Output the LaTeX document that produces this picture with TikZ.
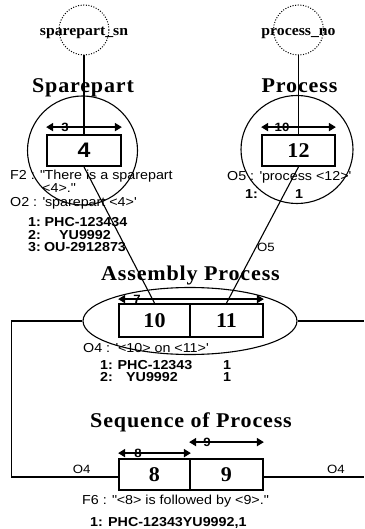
\documentclass[tikz,border=0pt]{standalone}
\usepackage{fontspec}
\setmainfont{Liberation Sans}[FakeStretch=1.1]
\newfontfamily\titlefont{Liberation Serif}[FakeStretch=1.05,LetterSpace=4]
\newfontfamily\numfont{Liberation Serif}[FakeStretch=1.05]
\newfontfamily\circfont{Liberation Serif}[FakeStretch=1.05]
\usetikzlibrary{arrows.meta,shapes.geometric}
\newcommand\sq{\textquotesingle}
\newcommand\dq{\textquotedbl}
\tikzset{
  bx/.style={draw, line width=1.8pt, inner sep=0pt, font=\numfont\bfseries\fontsize{21}{21}\selectfont},
  dimarrow/.style={line width=1.8pt, {Triangle[length=7pt,width=8pt]}-{Triangle[length=7pt,width=8pt]}},
  dimlbl/.style={font=\bfseries\fontsize{12}{12}\selectfont, inner sep=0pt, anchor=base},
  txt/.style={font=\fontsize{13}{13}\selectfont, inner sep=0pt, anchor=base west},
  btxt/.style={font=\bfseries\fontsize{13}{13}\selectfont, inner sep=0pt, anchor=base west},
  bval/.style={font=\bfseries\fontsize{13}{13}\selectfont, inner sep=0pt, anchor=base},
  title/.style={font=\titlefont\bfseries\fontsize{21}{21}\selectfont, inner sep=0pt, anchor=base},
  dotc/.style={draw, circle, minimum size=50pt, inner sep=0pt, line width=1pt, dash pattern=on 1pt off 1.6pt},
  clbl/.style={font=\circfont\bfseries\fontsize{15}{15}\selectfont, inner sep=0pt, anchor=base},
  bigc/.style={draw, ellipse, line width=1.1pt, inner sep=0pt},
  conn/.style={line width=1.1pt},
  olbl/.style={font=\fontsize{12}{12}\selectfont, inner sep=0pt},
}
\begin{document}
\begin{tikzpicture}[x=1pt,y=-1pt]
\useasboundingbox (0,0) rectangle (364,529);

% key circles
\node[dotc] (sn) at (84,30) {};
\node[clbl] (snl) at (84,36) {sparepart\_sn};
\node[dotc] (pn) at (298.5,30) {};
\node[clbl] (pnl) at (298.5,36) {process\_no};

% titles
\node[title] (tsp) at (83,93) {Sparepart};
\node[title] (tpr) at (299.5,93) {Process};
\node[title] (tas) at (190.5,280) {Assembly Process};
\node[title] (tsq) at (191,427) {Sequence of Process};

% big circles and ellipse
\node[bigc, minimum width=110pt, minimum height=109pt] (csp) at (82.5,150.5) {};
\node[bigc, minimum width=112pt, minimum height=108pt] (cpr) at (297,149.5) {};
\node[bigc, minimum width=214pt, minimum height=67pt] (asm) at (190,321) {};

% boxes
\node[bx, minimum width=74pt, minimum height=31pt, font=\bfseries\fontsize{21}{21}\selectfont] (b4) at (84,150.5) {4};
\node[bx, minimum width=73pt, minimum height=31pt] (b12) at (298.5,150.5) {12};
\node[bx, minimum width=71pt, minimum height=33pt] (b10) at (154.5,320.5) {10};
\node[bx, minimum width=73pt, minimum height=33pt] (b11) at (226.5,320.5) {11};
\node[bx, minimum width=71pt, minimum height=31pt] (b8) at (154.5,474.5) {8};
\node[bx, minimum width=73pt, minimum height=31pt] (b9) at (226.5,474.5) {9};

% dimension arrows
\draw[dimarrow] ([yshift=7pt]b4.north west) -- ([yshift=7pt]b4.north east);
\node[dimlbl] (l3) at (65,132) {3};
\draw[dimarrow] ([yshift=7pt]b12.north west) -- ([yshift=7pt]b12.north east);
\node[dimlbl] (l10) at (282,132) {10};
\draw[dimarrow] ([yshift=4pt]b10.north west) -- ([yshift=4pt]b11.north east);
\node[dimlbl] (l7) at (137,303) {7};
\draw[dimarrow] ([yshift=5pt]b8.north west) -- ([yshift=5pt]b8.north east);
\node[dimlbl] (l8) at (138,457) {8};
\draw[dimarrow] ([yshift=16pt]b9.north west) -- ([yshift=16pt]b9.north east);
\node[dimlbl] (l9) at (207,446) {9};

% connectors
\draw[conn] (sn.south) -- (b4.north);
\draw[conn] (pn.south) -- (b12.north);
\draw[conn] (b4.south) -- (b10.north);
\draw[conn] (b12.south) -- node[olbl, pos=0.59, anchor=west, inner sep=0.5pt] {O5} (b11.north);
\draw[conn] (asm.west) -| ([xshift=-107pt,yshift=-2.5pt]b8.west) -- node[olbl, pos=0.66, anchor=south, inner sep=2.5pt] {O4} ([yshift=-2.5pt]b8.west);
\coordinate (re1) at (364,321);
\coordinate (re2) at (364,477);
\draw[conn] (asm.east) -- (re1);
\draw[conn] ([yshift=-2.5pt]b9.east) -- node[olbl, pos=0.72, anchor=south, inner sep=2.5pt] {O4} (re2);

% Sparepart texts
\node[txt] (f2a) at (10,180) {F2 : \dq There is a sparepart};
\node[txt] (f2b) at (42,193) {<4>.\dq};
\node[txt] (o2) at (10,206) {O2 : \sq sparepart <4>\sq};
\node[btxt] (s1n) at (28,226) {1:};
\node[bval] (s1v) at (86,226) {PHC-123434};
\node[btxt] (s2n) at (28,239) {2:};
\node[bval] (s2v) at (85,239) {YU9992};
\node[btxt] (s3n) at (28,251) {3:};
\node[bval] (s3v) at (85,251) {OU-2912873};

% Process texts
\node[txt] (o5) at (227,181) {O5 : \sq process <12>\sq};
\node[btxt] (p1n) at (245,199) {1:};
\node[bval] (p1v) at (299,199) {1};

% Assembly texts
\node[txt] (o4) at (83,352) {O4 : \sq<10> on <11>\sq};
\node[btxt] (a1n) at (100,369) {1:};
\node[bval] (a1v) at (155,369) {PHC-12343};
\node[bval] (a1c) at (227,369) {1};
\node[btxt] (a2n) at (100,381) {2:};
\node[bval] (a2v) at (152,381) {YU9992};
\node[bval] (a2c) at (227,381) {1};

% Sequence texts
\node[txt] (f6) at (82,504) {F6 : \dq<8> is followed by <9>.\dq};
\node[btxt] (q1) at (90,526) {1: PHC-12343YU9992,1};
\end{tikzpicture}
\end{document}
